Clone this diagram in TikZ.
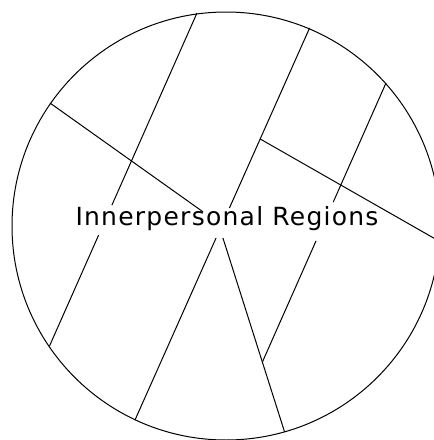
\documentclass[tikz,border=0pt]{standalone}
\usepackage{fontspec}
\setmainfont{DejaVu Sans}
\usetikzlibrary{calc}

\tikzset{
  rim/.style={line width=1pt},
  split/.style={line width=1pt},
  title/.style={font=\fontsize{25}{30}\selectfont\addfontfeatures{LetterSpace=5}, inner sep=0pt, anchor=base}
}

\begin{document}
\begin{tikzpicture}[x=1pt,y=-1pt]
\clip (0,0) rectangle (434,440);
\coordinate (O) at (226,226);
\draw[rim] (O) circle[radius=214];
\node[title] (lbl) at (227,225) {Innerpersonal Regions};
% dividing lines, broken where they run under the title
\coordinate (a1) at (197,13);
\coordinate (a2) at (49.5,346);
\coordinate (b1) at (309.6,28);
\coordinate (b2) at (135,420);
\coordinate (c1) at (386,83);
\coordinate (c2) at (262.4,362);
\coordinate (d1) at (50,103);
\coordinate (j) at (218,222.5);
\coordinate (e2) at (284.6,432);
\coordinate (f1) at (260.2,139);
\coordinate (f2) at (439.4,241.3);
\draw[split] (a1) -- ($(a1)!0.577!(a2)$);
\draw[split] ($(a1)!0.667!(a2)$) -- (a2);
\draw[split] (b1) -- ($(b1)!0.459!(b2)$);
\draw[split] ($(b1)!0.536!(b2)$) -- (b2);
\draw[split] (c1) -- ($(c1)!0.427!(c2)$);
\draw[split] ($(c1)!0.566!(c2)$) -- (c2);
\draw[split] (d1) -- ($(d1)!0.911!(j)$);
\draw[split] ($(j)!0.074!(e2)$) -- (e2);
\draw[split] (f1) -- (f2);
\end{tikzpicture}
\end{document}
